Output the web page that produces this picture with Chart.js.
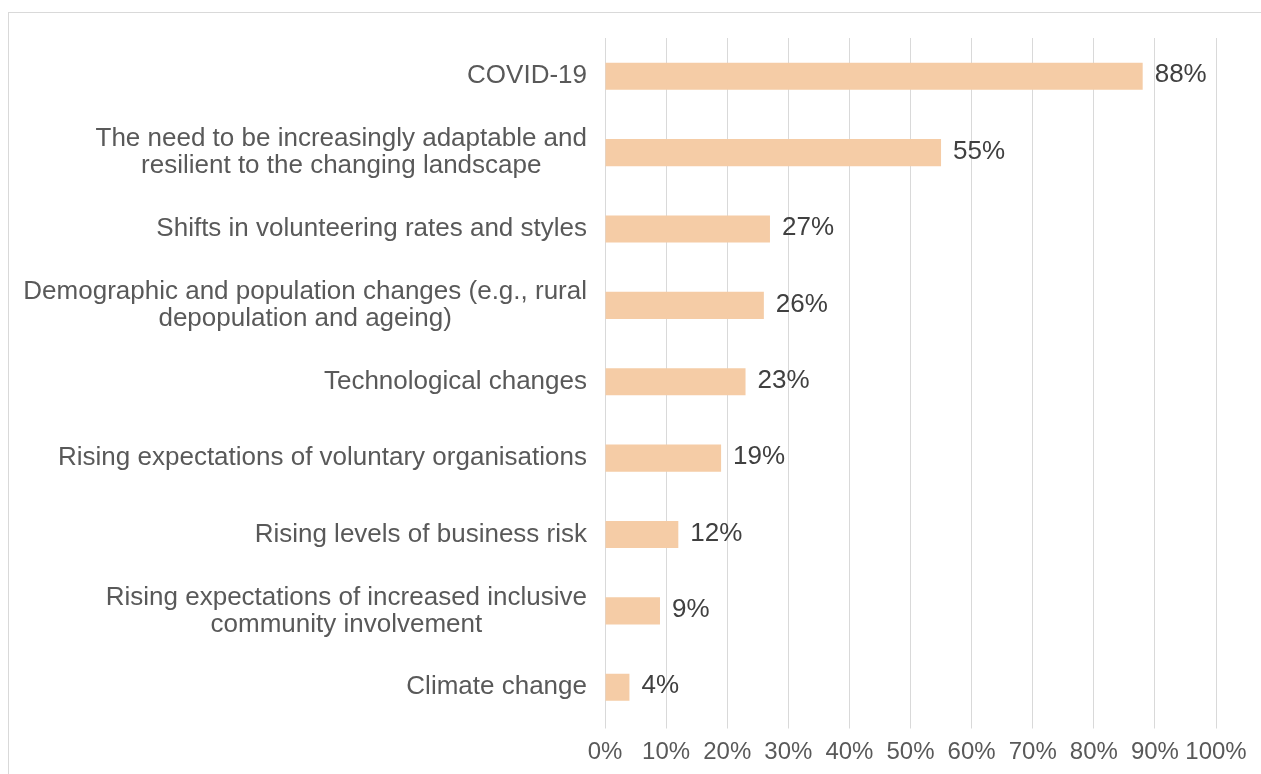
<!DOCTYPE html>
<html>
<head>
<meta charset="utf-8">
<script src="https://cdn.jsdelivr.net/npm/chart.js@4"></script>
<style>
  body { margin: 0; background: #fff; overflow: hidden; }
  #frame { position: absolute; left: 8px; top: 12px; width: 1300px; height: 800px; border: 1px solid #D9D9D9; box-sizing: border-box; }
  #wrap { position: absolute; left: 0; top: 0; width: 1261px; height: 774px; }
</style>
</head>
<body>
<div id="frame"></div>
<div id="wrap"><canvas id="chart"></canvas></div>
<script>
const categories = [
  ['COVID-19'],
  ['The need to be increasingly adaptable and', 'resilient to the changing landscape'],
  ['Shifts in volunteering rates and styles'],
  ['Demographic and population changes (e.g., rural', 'depopulation and ageing)'],
  ['Technological changes'],
  ['Rising expectations of voluntary organisations'],
  ['Rising levels of business risk'],
  ['Rising expectations of increased inclusive', 'community involvement'],
  ['Climate change']
];
const shares = [88, 55, 27, 26, 23, 19, 12, 9, 4];
const xTicks = [0, 10, 20, 30, 40, 50, 60, 70, 80, 90, 100];

const FONT = '"Liberation Sans", Arial, sans-serif';

// category labels: longest line right-aligned, lines centred on each other
const categoryLabels = {
  id: 'categoryLabels',
  afterDraw(chart) {
    const ctx = chart.ctx;
    const y = chart.scales.y;
    ctx.save();
    ctx.font = '26px ' + FONT;
    ctx.fillStyle = '#595959';
    ctx.textAlign = 'center';
    ctx.textBaseline = 'middle';
    const right = 587, lh = 27;
    categories.forEach((lines, i) => {
      const cy = y.getPixelForValue(i);
      const w = Math.max(...lines.map(l => ctx.measureText(l).width));
      const cx = right - w / 2;
      const top = cy - (lines.length - 1) * lh / 2;
      lines.forEach((l, j) => ctx.fillText(l, cx, top + j * lh));
    });
    ctx.restore();
  }
};

// value labels at bar ends
const valueLabels = {
  id: 'valueLabels',
  afterDatasetsDraw(chart) {
    const ctx = chart.ctx;
    const meta = chart.getDatasetMeta(0);
    ctx.save();
    ctx.font = '26px ' + FONT;
    ctx.fillStyle = '#404040';
    ctx.textAlign = 'left';
    ctx.textBaseline = 'middle';
    meta.data.forEach((bar, i) => {
      ctx.fillText(shares[i] + '%', bar.x + 12, bar.y - 1);
    });
    ctx.restore();
  }
};

new Chart(document.getElementById('chart'), {
  type: 'bar',
  data: {
    labels: categories.map(c => c.join(' ')),
    datasets: [{
      data: shares,
      backgroundColor: '#F5CCA6',
      borderWidth: 0,
      categoryPercentage: 1,
      barPercentage: 0.355
    }]
  },
  options: {
    indexAxis: 'y',
    responsive: true,
    maintainAspectRatio: false,
    animation: false,
    layout: { padding: { left: 605, right: 45, top: 38, bottom: 0 } },
    plugins: { legend: { display: false }, tooltip: { enabled: false } },
    scales: {
      x: {
        min: 0,
        max: 100,
        afterBuildTicks(axis) { axis.ticks = xTicks.map(v => ({ value: v })); },
        afterFit(scale) { scale.height = 48.5; },
        grid: { color: '#D9D9D9', lineWidth: 1, drawTicks: true, tickLength: 3 },
        border: { display: false },
        ticks: {
          padding: 9,
          color: '#595959',
          font: { family: FONT, size: 24 },
          maxRotation: 0,
          autoSkip: false,
          callback: v => v + '%'
        }
      },
      y: {
        afterFit(scale) { scale.width = 0; },
        grid: { display: false },
        border: { display: false },
        ticks: { display: false }
      }
    }
  },
  plugins: [categoryLabels, valueLabels]
});
</script>
</body>
</html>
